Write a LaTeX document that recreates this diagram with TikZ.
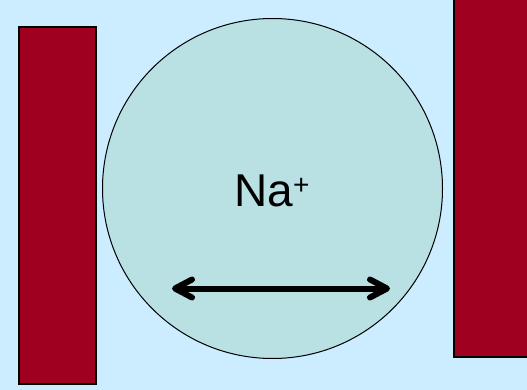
\documentclass[tikz,border=0pt]{standalone}
\usepackage{fontspec}
\setmainfont{Liberation Sans}
\usetikzlibrary{arrows.meta}
\definecolor{bgblue}{RGB}{204,236,255}
\definecolor{ionfill}{RGB}{185,224,226}
\definecolor{wallred}{RGB}{160,0,32}
\newcommand{\charge}[1]{\raisebox{12pt}{\fontsize{28}{28}\selectfont #1}}

\begin{document}
\begin{tikzpicture}[x=1pt, y=-1pt,
    wall/.style={draw=black, line width=1.2pt, fill=wallred},
    ion/.style={circle, draw=black, line width=1pt, fill=ionfill, minimum size=340pt, inner sep=0pt}]
  % ================================================================== background
  \fill[bgblue] (0,0) rectangle (527,390);
  \useasboundingbox (0,0) rectangle (527,390);
  % ================================================================== walls
  \draw[wall] (19,27) rectangle (96,384);
  \draw[wall] (454,-5) rectangle (535,357);
  % ================================================================== the ion
  \node[ion] (na) at (272.5,188.5) {};
  \node[anchor=base, font=\fontsize{46}{50}\selectfont] (label) at (272,207) {Na\charge{+}};
  \coordinate (west) at (172,288.5);
  \coordinate (east) at (390,288.5);
  \draw[line width=6pt, {Straight Barb[length=17pt, width=18pt, round]}-{Straight Barb[length=17pt, width=18pt, round]}] (west) -- (east);
\end{tikzpicture}
\end{document}
